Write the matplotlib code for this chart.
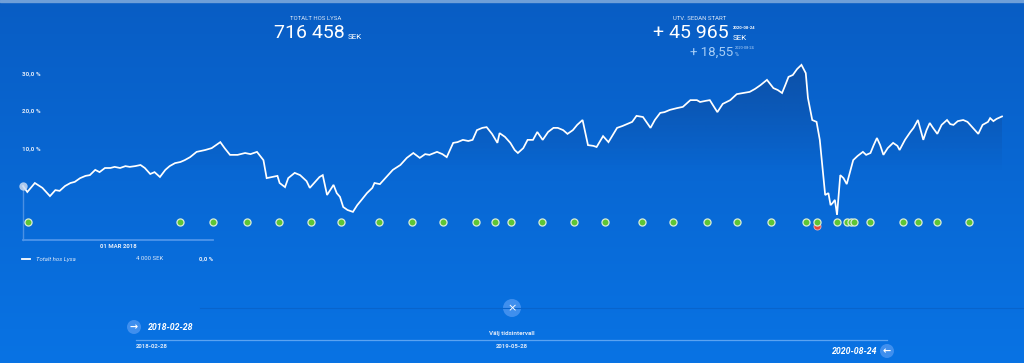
import numpy as np
import matplotlib
matplotlib.use("Agg")
import matplotlib.pyplot as plt
import matplotlib.dates as mdates
import matplotlib.transforms as mtrans
from matplotlib.patches import Polygon, Circle
import pandas as pd

plt.rcParams['font.family'] = ['Roboto', 'DejaVu Sans']

# ---------------- data ----------------
start_date = "2018-02-28"
end_date = "2020-08-24"
hover_date_label = "01 MAR 2018"

days_since_start = [0, 4, 11, 18, 25, 30, 34, 39, 44, 48, 53, 58, 62, 67, 71, 76, 81, 85, 90, 95,
                    99, 104, 109, 113, 118, 122, 127, 132, 136, 141, 146, 150, 155, 161, 169, 175,
                    183, 187, 192, 199, 206, 211, 217, 223, 226, 231, 236, 238, 243, 246, 252, 257,
                    263, 266, 271, 275, 278, 282, 288, 291, 294, 297, 301, 306, 310, 314, 319, 324,
                    326, 331, 336, 343, 350, 356, 362, 368, 373, 377, 384, 389, 393, 399, 403, 408,
                    413, 417, 421, 426, 430, 435, 440, 442, 447, 452, 456, 459, 464, 468, 473, 477,
                    482, 487, 492, 496, 501, 505, 510, 514, 519, 524, 529, 532, 538, 543, 547, 551,
                    556, 560, 565, 569, 575, 582, 586, 591, 595, 600, 607, 612, 619, 625, 628, 633,
                    637, 644, 649, 656, 662, 668, 674, 679, 684, 690, 693, 696, 700, 704, 707, 710,
                    714, 718, 722, 724, 726, 728, 732, 736, 739, 741, 744, 747, 749, 751, 753, 755,
                    758, 761, 764, 767, 770, 774, 779, 782, 786, 789, 792, 795, 798, 802, 807, 811,
                    813, 818, 823, 826, 830, 832, 835, 838, 841, 844, 848, 852, 857, 860, 863, 867,
                    872, 876, 881, 886, 890, 895, 897, 900, 903, 908]

return_pct = [0.0, -1.6, 0.8, -0.5, -2.7, -1.1, -1.3, 0.0, 0.8, 1.1, 2.1, 2.7, 2.9, 4.3, 3.7, 4.8,
              4.8, 5.1, 4.8, 5.3, 5.1, 5.3, 5.6, 4.8, 3.2, 3.7, 2.4, 4.3, 5.3, 6.1, 6.4, 6.9, 7.7,
              9.1, 9.6, 10.1, 11.7, 10.1, 8.3, 8.3, 8.8, 8.5, 9.1, 6.9, 2.1, 2.4, 2.7, 0.8, -0.3,
              2.1, 3.5, 2.9, 1.3, -0.5, 1.1, 2.4, 2.9, -2.4, 0.3, -1.9, -2.9, -5.6, -6.4, -6.9,
              -5.1, -3.7, -1.9, -0.5, 0.8, 0.5, 2.1, 4.3, 5.6, 7.5, 8.8, 7.5, 8.5, 8.3, 9.1, 8.5,
              7.7, 11.5, 11.7, 12.3, 12.0, 12.3, 14.9, 15.5, 15.7, 13.9, 11.5, 14.1, 13.1, 11.5,
              9.6, 8.8, 10.1, 12.3, 12.3, 14.4, 12.3, 14.4, 15.5, 15.5, 14.9, 13.9, 14.9, 16.3,
              17.6, 10.9, 10.7, 10.4, 13.3, 11.7, 13.6, 15.5, 16.0, 16.5, 17.1, 18.7, 18.4, 15.5,
              17.6, 19.5, 19.7, 20.3, 20.8, 21.1, 22.9, 22.9, 22.4, 22.7, 22.9, 19.7, 21.9, 22.9,
              24.5, 24.8, 25.1, 25.9, 26.9, 28.3, 27.2, 26.1, 25.6, 24.8, 26.9, 29.1, 29.6, 31.2,
              32.3, 31.2, 30.1, 23.5, 17.6, 17.1, 12.3, 6.4, -2.4, -1.9, -5.1, -4.5, -3.7, -7.7,
              2.9, 2.1, 0.5, 3.7, 6.9, 8.0, 9.1, 8.3, 8.8, 10.9, 12.8, 10.9, 8.3, 10.1, 11.5, 10.7,
              9.6, 12.3, 14.4, 15.5, 17.6, 15.5, 12.3, 14.9, 16.8, 15.5, 13.9, 16.3, 17.6, 16.5,
              16.3, 17.3, 17.6, 17.1, 15.5, 13.9, 16.3, 17.1, 18.1, 17.3, 17.9, 18.55]

deposit_days = [5, 146, 176, 208, 237, 267, 295, 330, 361, 390, 420, 438, 453, 481, 511, 540,
                574, 603, 634, 662, 694, 726, 736, 755, 764, 768, 771, 786, 816, 830, 848, 877]
withdrawal_days = [736]

y_ticks = [10, 20, 30]
y_tick_labels = ["10,0 %", "20,0 %", "30,0 %"]

total_label = "TOTALT HOS LYSA"
total_value = "716 458"
gain_label = "UTV. SEDAN START"
gain_value = "+ 45 965"
gain_pct = "+ 18,55"
legend_name = "Totalt hos Lysa"
legend_value = "4 000 SEK"
legend_pct = "0,0 %"
range_mid_label = "2019-05-28"

# ---------------- layout ----------------
W, H = 1024, 363
fig = plt.figure(figsize=(W / 100, H / 100), dpi=100)

def fx(x):
    return x / W

def fy(y):
    return 1 - y / H

# background gradient
bg = fig.add_axes([0, 0, 1, 1], zorder=-5)
top = np.array([9, 93, 196]) / 255
bot = np.array([8, 115, 228]) / 255
t = np.linspace(0, 1, 256)[:, None]
grad = top[None, :] * (1 - t) + bot[None, :] * t
grad = np.repeat(grad[:, None, :], 4, axis=1)
bg.imshow(grad, aspect='auto', extent=[0, 1, 0, 1], origin='upper')
bg.axhspan(1 - 1.5 / H, 1, color='#6f9fd8')
bg.set_xlim(0, 1)
bg.set_ylim(0, 1)
bg.axis('off')

# main data axes covering the whole figure
start = mdates.date2num(pd.Timestamp(start_date))
dates = pd.Timestamp(start_date) + pd.to_timedelta(days_since_start, unit='D')
xd = mdates.date2num(dates)
dep = mdates.date2num(pd.Timestamp(start_date) + pd.to_timedelta(deposit_days, unit='D'))
wd = mdates.date2num(pd.Timestamp(start_date) + pd.to_timedelta(withdrawal_days, unit='D'))

x_left_px, x_right_px = 23, 1002
ppd = (x_right_px - x_left_px) / (days_since_start[-1])
zero_px, px_per_pct = 186, 3.75

ax = fig.add_axes([0, 0, 1, 1])
ax.set_xlim(start - x_left_px / ppd, start + (W - x_left_px) / ppd)
ax.set_ylim((zero_px - H) / px_per_pct, zero_px / px_per_pct)
ax.axis('off')
ax.patch.set_alpha(0)

# gradient fill under line
ylo = -12
ny = 300
yy = np.linspace(ylo, 36, ny)
alpha = np.clip((yy - 4) / (30 - 4), 0, 1) * 0.6
fill = np.zeros((ny, 2, 4))
fill[..., 0] = 16 / 255
fill[..., 1] = 72 / 255
fill[..., 2] = 150 / 255
fill[..., 3] = alpha[:, None]
im = ax.imshow(fill, aspect='auto', origin='lower',
               extent=[xd[0], xd[-1], ylo, 36], zorder=1, interpolation='bilinear')
verts = list(zip(xd, return_pct)) + [(xd[-1], ylo), (xd[0], ylo)]
poly = Polygon(verts, closed=True, transform=ax.transData, facecolor='none', edgecolor='none')
ax.add_patch(poly)
im.set_clip_path(poly)

# line
ax.plot(xd, return_pct, color='white', lw=1.25, zorder=4, solid_joinstyle='miter')

# hover elements
hover_bottom = (zero_px - 239.5) / px_per_pct
ax.plot([xd[0], xd[0]], [0, hover_bottom], color='#5d9be6', lw=1.0, alpha=0.8, zorder=3)
ax.plot([xd[0], start + (213 - x_left_px) / ppd], [hover_bottom, hover_bottom],
        color='#4d95ea', lw=1.3, zorder=3)
ax.plot([xd[0]], [return_pct[0]], marker='o', ms=6, color='#c9dbf3', alpha=0.85,
        mec='none', zorder=5)

# deposit markers
dot_level = (zero_px - 222) / px_per_pct
ax.scatter(wd, [dot_level - 3.5 / px_per_pct] * len(wd), s=26, color='#e8473a',
           edgecolors='#f0b0b0', linewidths=0.6, zorder=5)
ax.scatter(dep, [dot_level] * len(dep), s=26, color='#5ec535',
           edgecolors='#d9ecda', linewidths=0.9, zorder=6)

# y tick labels
bt = mtrans.blended_transform_factory(fig.transFigure, ax.transData)
for v, lab in zip(y_ticks, y_tick_labels):
    ax.text(fx(22), v, lab, transform=bt, fontsize=4.6, color='#dce8f8',
            fontweight='bold', ha='left', va='center')

# header texts
fig.text(fx(316), fy(18), total_label, fontsize=4.3, color='#dbe7f7', ha='center', va='center')
fig.text(fx(345), fy(33), total_value, fontsize=14, color='white', ha='right', va='center',
         fontweight='normal')
fig.text(fx(348), fy(37), "SEK", fontsize=5.8, color='white', ha='left', va='center')

fig.text(fx(700), fy(18), gain_label, fontsize=4.3, color='#dbe7f7', ha='center', va='center')
fig.text(fx(729), fy(33), gain_value, fontsize=14, color='white', ha='right', va='center',
         fontweight='normal')
fig.text(fx(733), fy(28), end_date, fontsize=3.0, color='white', ha='left', va='center',
         fontweight='bold')
fig.text(fx(733), fy(37.5), "SEK", fontsize=5.8, color='white', ha='left', va='center')
fig.text(fx(733), fy(52), gain_pct, fontsize=9.5, color='#a6cdf6', ha='right', va='center',
         fontweight='normal')
fig.text(fx(735), fy(48), end_date, fontsize=2.8, color='#b5d4f6', ha='left', va='center')
fig.text(fx(735), fy(55), "%", fontsize=4.0, color='#b5d4f6', ha='left', va='center')

# tooltip / legend
fig.text(fx(118), fy(247), hover_date_label, fontsize=4.3, color='#e6eefa', ha='center',
         va='center', fontweight='bold')
fig.add_artist(plt.Line2D([fx(22), fx(30)], [fy(259), fy(259)], color='white', lw=1.3))
fig.text(fx(36), fy(259), legend_name, fontsize=4.3, color='#dce8f8', ha='left', va='center',
         style='italic')
fig.text(fx(163), fy(259), legend_value, fontsize=4.3, color='#dce8f8', ha='right', va='center')
fig.text(fx(213), fy(259), legend_pct, fontsize=4.3, color='#e6eefa', ha='right', va='center',
         fontweight='bold')

# bottom time range selector
sel = fig.add_axes([0, 0, 1, 1], zorder=2)
sel.set_xlim(0, W)
sel.set_ylim(H, 0)
sel.axis('off')
sel.patch.set_alpha(0)
sel.plot([200, 1024], [308, 308], color='#0864cc', lw=0.8)
sel.add_patch(Circle((512, 308), 9, color='#3f8fee', ec='none'))
sel.text(512, 308, "×", fontsize=8, color='white', ha='center', va='center',
         family=['DejaVu Sans'])
sel.add_patch(Circle((134, 327), 7, color='#3f8fee', ec='none'))
sel.text(134, 327, "→", fontsize=7, color='white', ha='center', va='center',
         fontweight='bold', family=['DejaVu Sans'])
sel.text(148, 327, start_date, fontsize=6.3, color='white', ha='left', va='center',
         style='italic', fontweight='bold')
sel.text(512, 333, "Välj tidsintervall", fontsize=4.5, color='#dce8f8', ha='center',
         va='center', fontweight='bold')
sel.plot([136, 887], [340, 340], color='#5aa3f2', lw=0.9)
sel.text(136, 347, start_date, fontsize=4.3, color='#dce8f8', ha='left', va='center',
         fontweight='bold')
sel.text(512, 347, range_mid_label, fontsize=4.3, color='#dce8f8', ha='center', va='center',
         fontweight='bold')
sel.text(877, 351, end_date, fontsize=6.3, color='white', ha='right', va='center',
         style='italic', fontweight='bold')
sel.add_patch(Circle((887, 351), 7, color='#3f8fee', ec='none'))
sel.text(887, 351, "←", fontsize=7, color='white', ha='center', va='center',
         fontweight='bold', family=['DejaVu Sans'])

fig.savefig("out.png", dpi=100)
